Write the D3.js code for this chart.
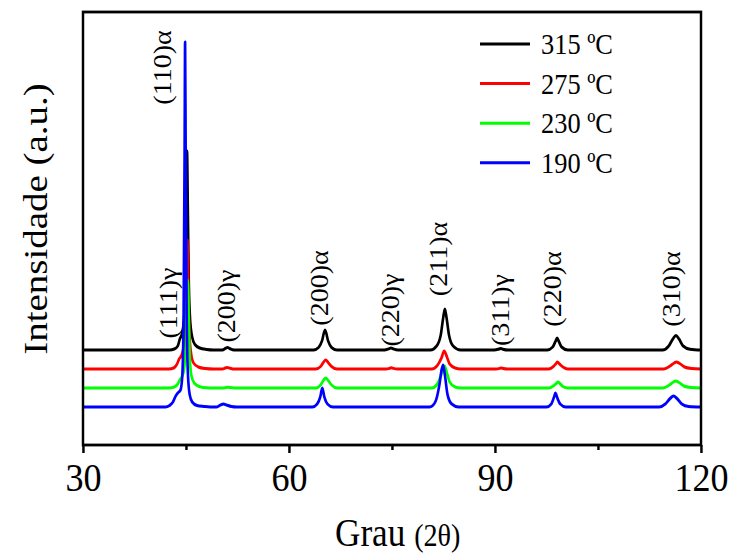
<!doctype html>
<html>
<head>
<meta charset="utf-8">
<style type="text/css">
  body { margin: 0; background: #fff; }
  text { font-family: "Liberation Serif", "Times New Roman", serif; fill: #000; }
</style>
</head>
<body>
<svg id="chart"></svg>
<script src="https://cdnjs.cloudflare.com/ajax/libs/d3/7.8.5/d3.min.js"></script>
<script>
// temperatures (legend) and colours
var temps = ["315 ºC", "275 ºC", "230 ºC", "190 ºC"];
var colours = ["#000000", "#ff0000", "#00ff00", "#0000ff"];
// vertical offset of each pattern, in intensity units
var offsets = [950, 760, 570, 380];

// XRD patterns: [2theta, intensity]
var s315 = [[30,0],[42.6,0],[43.3,10],[43.8,40],[44.1,110],[44.4,160],[44.7,300],[44.9,700],[45.05,1500],[45.15,1990],[45.25,1500],[45.4,700],[45.6,300],[45.9,130],[46.3,55],[47.0,20],[48.0,5],[49.0,0],
  [50.3,0],[50.8,18],[51.05,25],[51.35,15],[52.0,0],
  [63.6,0],[64.3,25],[64.8,90],[65.25,200],[65.7,90],[66.2,25],[67.0,0],
  [73.9,0],[74.6,14],[74.85,20],[75.15,12],[75.9,0],
  [80.6,0],[81.5,40],[82.1,150],[82.45,320],[82.7,410],[82.95,320],[83.3,150],[83.9,40],[85.0,0],
  [89.9,0],[90.6,10],[90.85,15],[91.15,8],[91.9,0],
  [97.6,0],[98.4,30],[98.8,85],[99.05,120],[99.3,85],[99.7,30],[100.6,0],
  [114.4,0],[115.3,40],[115.9,110],[116.35,145],[116.8,110],[117.4,40],[118.4,8],[120,0]];
var s275 = [[30,0],[42.5,0],[43.2,10],[43.7,50],[44.0,100],[44.3,130],[44.6,200],[44.85,450],[45.05,900],[45.2,1290],[45.32,900],[45.5,350],[45.75,150],[46.1,60],[46.8,20],[47.8,5],[49.0,0],
  [50.3,0],[50.8,12],[51.0,15],[51.4,8],[52.0,0],
  [63.9,0],[64.6,25],[65.0,65],[65.35,90],[65.7,65],[66.2,25],[67.0,0],
  [74.1,0],[74.7,8],[74.9,12],[75.2,6],[75.8,0],
  [80.8,0],[81.6,35],[82.2,110],[82.6,180],[82.95,130],[83.4,50],[84.2,10],[85.0,0],
  [90.1,0],[90.7,6],[90.9,10],[91.2,5],[91.8,0],
  [97.8,0],[98.5,25],[98.9,55],[99.1,70],[99.4,50],[99.9,20],[100.6,0],
  [114.6,0],[115.5,30],[116.1,60],[116.4,70],[116.9,55],[117.6,20],[118.6,5],[120,0]];
var s230 = [[30,0],[42.5,0],[43.3,10],[43.8,40],[44.1,80],[44.4,110],[44.7,180],[44.95,400],[45.1,800],[45.25,1080],[45.38,750],[45.55,300],[45.8,120],[46.2,50],[46.9,15],[48.0,3],[49.0,0],
  [50.4,0],[50.9,6],[51.1,8],[51.4,4],[52.0,0],
  [63.9,0],[64.6,30],[65.0,75],[65.35,100],[65.7,75],[66.2,30],[67.0,0],
  [80.8,0],[81.6,40],[82.2,140],[82.65,220],[83.0,150],[83.4,60],[84.2,10],[85.0,0],
  [97.9,0],[98.6,25],[99.0,50],[99.15,60],[99.45,45],[99.9,15],[100.6,0],
  [114.5,0],[115.4,30],[116.0,60],[116.3,70],[116.8,55],[117.5,20],[118.5,5],[120,0]];
var s190 = [[30,0],[42.0,0],[42.6,15],[43.1,50],[43.5,110],[43.8,140],[44.2,170],[44.45,300],[44.65,900],[44.8,2600],[44.87,3650],[44.95,2600],[45.1,900],[45.3,300],[45.55,120],[45.9,50],[46.6,15],[47.6,5],[48.5,0],
  [49.4,0],[50.0,18],[50.45,30],[50.9,20],[51.6,5],[52.4,0],
  [63.4,0],[64.1,30],[64.55,100],[64.85,190],[65.15,100],[65.6,30],[66.4,0],
  [80.5,0],[81.3,50],[81.9,220],[82.25,380],[82.45,420],[82.7,320],[83.1,120],[83.7,30],[84.7,0],
  [97.5,0],[98.2,30],[98.6,100],[98.8,140],[99.05,95],[99.5,30],[100.3,0],
  [113.9,0],[114.8,30],[115.5,85],[116.0,110],[116.5,85],[117.2,30],[118.2,5],[120,0]];
var patterns = [s315, s275, s230, s190];

// peak labels: text, 2theta of label, intensity level of label centre
var peakNames = ["(110)α", "(111)γ", "(200)γ", "(200)α", "(220)γ", "(211)α", "(311)γ", "(220)α", "(310)α"];
var peakTheta = [41.58, 42.45, 50.9, 64.37, 74.78, 81.77, 90.73, 98.3, 115.7];
var peakLevel = [3775, 1420, 1390, 1570, 1350, 1860, 1350, 1560, 1560];

var xTicks = [30, 60, 90, 120];
var xMinor = [45, 75, 105];

// the original picture is squeezed horizontally, do the same with the viewBox
var SX = 0.88;
var W = 732, H = 554, IW = W / SX;
var svg = d3.select("#chart")
  .attr("width", W).attr("height", H)
  .attr("viewBox", "0 0 " + IW + " " + H)
  .attr("preserveAspectRatio", "none");

var pLeft = 83 / SX, pRight = 701 / SX, pTop = 12, pBottom = 445;

var x = d3.scaleLinear().domain([30, 120]).range([pLeft, pRight]);
var y = d3.scaleLinear().domain([0, 4330]).range([pBottom, pTop]);

// patterns
var line = d3.line().curve(d3.curveMonotoneX);
patterns.forEach(function(p, i) {
  svg.append("path")
    .attr("d", line(p.map(function(d) { return [x(d[0]), y(d[1] + offsets[i])]; })))
    .attr("fill", "none")
    .attr("stroke", colours[i])
    .attr("stroke-width", 3)
    .attr("stroke-linejoin", "round");
});

// frame
svg.append("rect")
  .attr("x", pLeft).attr("y", pTop)
  .attr("width", pRight - pLeft).attr("height", pBottom - pTop)
  .attr("fill", "none").attr("stroke", "#000").attr("stroke-width", 2.8);

// x axis
var xAxis = d3.axisBottom(x).tickValues(xTicks).tickSize(8).tickPadding(9).tickFormat(d3.format("d"));
var gx = svg.append("g").attr("transform", "translate(0," + pBottom + ")").call(xAxis);
gx.select(".domain").remove();
gx.selectAll(".tick line").attr("stroke-width", 2.8);
gx.selectAll(".tick text").style("font-family", "'Liberation Serif', serif").style("font-size", "41px");

var gm = svg.append("g").attr("transform", "translate(0," + pBottom + ")")
  .call(d3.axisBottom(x).tickValues(xMinor).tickSize(5).tickFormat(""));
gm.select(".domain").remove();
gm.selectAll(".tick line").attr("stroke-width", 2.8);

// axis titles
var xt = svg.append("text").attr("x", 335 / SX).attr("y", 546);
xt.append("tspan").style("font-size", "40px").text("Grau ");
xt.append("tspan").style("font-size", "32px").text("(2θ)");

svg.append("text")
  .attr("transform", "translate(" + (47 / SX) + ",219) rotate(-90)")
  .attr("text-anchor", "middle")
  .style("font-size", "39px")
  .text("Intensidade (a.u.)");

// peak labels
peakNames.forEach(function(n, i) {
  svg.append("text")
    .attr("transform", "translate(" + x(peakTheta[i]) + "," + y(peakLevel[i]) + ") rotate(-90)")
    .attr("text-anchor", "middle")
    .attr("dy", "0.35em")
    .style("font-size", "28px")
    .text(n);
});

// legend
var lg = svg.append("g");
temps.forEach(function(t, i) {
  var ly = 44 + i * 39.6;
  lg.append("line")
    .attr("x1", 480 / SX).attr("x2", 530 / SX)
    .attr("y1", ly).attr("y2", ly)
    .attr("stroke", colours[i]).attr("stroke-width", 3);
  lg.append("text")
    .attr("x", 541 / SX).attr("y", ly + 10)
    .style("font-size", "30px")
    .text(t);
});
</script>
</body>
</html>
